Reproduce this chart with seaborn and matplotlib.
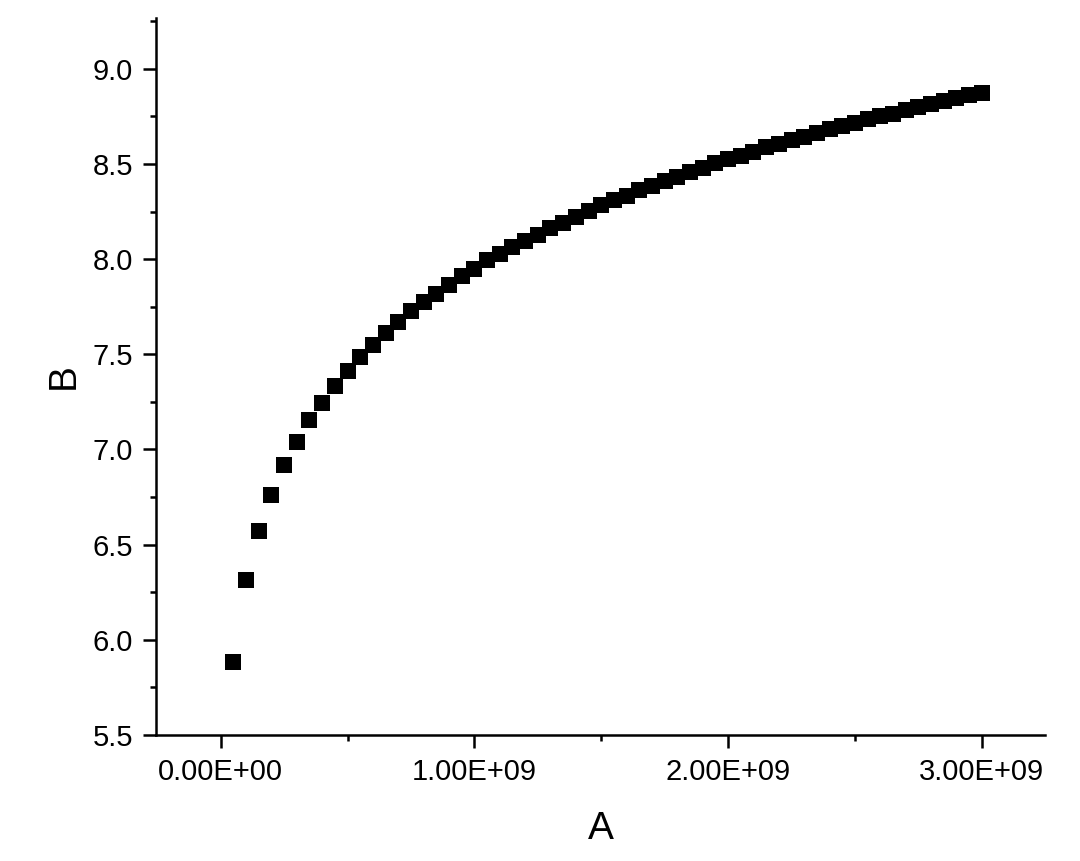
import numpy as np
import pandas as pd
import matplotlib
matplotlib.use("Agg")
import matplotlib.pyplot as plt
from matplotlib.ticker import MultipleLocator, FuncFormatter
import seaborn as sns

# A in steps of 5E+07, B
a_values = np.arange(1, 61) * 5e7
b_values = [
    5.885, 6.312, 6.571, 6.761, 6.917, 7.039, 7.154, 7.246, 7.336, 7.413,
    7.487, 7.550, 7.611, 7.669, 7.726, 7.773, 7.818, 7.866, 7.910, 7.950,
    7.993, 8.027, 8.063, 8.097, 8.129, 8.161, 8.191, 8.222, 8.252, 8.282,
    8.310, 8.334, 8.361, 8.384, 8.410, 8.433, 8.457, 8.480, 8.503, 8.524,
    8.543, 8.564, 8.589, 8.606, 8.626, 8.643, 8.664, 8.685, 8.699, 8.717,
    8.734, 8.751, 8.764, 8.784, 8.801, 8.813, 8.831, 8.848, 8.861, 8.875,
]
x_ticks = [0, 1e9, 2e9, 3e9]

df = pd.DataFrame({"A": a_values, "B": b_values})

sns.set_style("ticks")
plt.rcParams["font.family"] = ["Liberation Sans", "DejaVu Sans"]

fig = plt.figure(figsize=(10.8, 8.61), dpi=100)
ax = fig.add_axes([0.1444, 0.1463, 0.8232, 0.8327])

sns.scatterplot(data=df, x="A", y="B", marker="s", s=135, color="black",
                linewidth=0, ax=ax, legend=False)

ax.set_xlim(-0.255e9, 3.249e9)
ax.set_ylim(5.5, 9.266)
ax.set_xticks(x_ticks)
ax.xaxis.set_minor_locator(MultipleLocator(5e8))
ax.yaxis.set_major_locator(MultipleLocator(0.5))
ax.yaxis.set_minor_locator(MultipleLocator(0.25))
ax.xaxis.set_major_formatter(FuncFormatter(lambda v, p: f"{v:.2E}"))
ax.yaxis.set_major_formatter(FuncFormatter(lambda v, p: f"{v:.1f}"))

for side in ["top", "right"]:
    ax.spines[side].set_visible(False)
for side in ["left", "bottom"]:
    ax.spines[side].set_linewidth(1.8)
    ax.spines[side].set_color("black")

ax.tick_params(which="major", direction="out", length=9.5, width=1.8,
               labelsize=21, colors="black", pad=7)
ax.tick_params(which="minor", direction="out", length=4.5, width=1.8,
               colors="black")

ax.set_xlabel("A", fontsize=28, labelpad=18, color="black")
ax.set_ylabel("B", fontsize=28, labelpad=8, color="black")

fig.savefig("out.png", dpi=100)
